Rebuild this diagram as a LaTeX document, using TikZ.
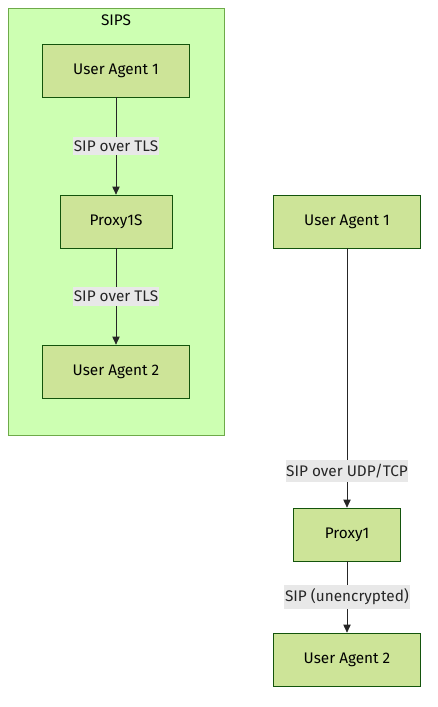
\documentclass[tikz,border=0pt]{standalone}
\usepackage{fontspec}
\setmainfont{Fira Sans}
\usepackage{tikz}
\usetikzlibrary{arrows.meta}

\definecolor{boxfill}{HTML}{CDE498}
\definecolor{boxline}{HTML}{13540C}
\definecolor{groupfill}{HTML}{CDFFB2}
\definecolor{groupline}{HTML}{6EAA49}
\definecolor{tagfill}{HTML}{E8E8E8}

\tikzset{
    agent/.style = {draw=boxline, fill=boxfill, line width=0.5pt, minimum height=39.75pt, font=\fontsize{11.5}{13}\selectfont},
    tag/.style = {fill=tagfill, inner xsep=0.5pt, inner ysep=3pt, font=\fontsize{11.5}{13}\selectfont},
    link/.style = {-{Stealth[length=6pt, width=5.5pt, inset=0pt]}, black!85, line width=0.5pt},
}

\begin{document}
\begin{tikzpicture}[x=0.75pt, y=-0.75pt]
    \useasboundingbox (0,0) rectangle (437,707);
    % secure group
    \draw[groupline, fill=groupfill, line width=0.5pt] (8,8) rectangle (224,435);
    \node[font=\fontsize{11.5}{13}\selectfont] (sips) at (116,20) {SIPS};
    \node[agent, minimum width=110pt] (ua1s) at (116,70.5) {User Agent 1};
    \node[agent, minimum width=84pt] (proxys) at (116,221.5) {Proxy1S};
    \node[agent, minimum width=110pt] (ua2s) at (116,371.5) {User Agent 2};
    \draw[link] (ua1s) -- (proxys) node[tag, pos=0.5] {SIP over TLS};
    \draw[link] (proxys) -- (ua2s) node[tag, pos=0.5] {SIP over TLS};

    % plain side
    \node[agent, minimum width=110pt] (ua1) at (347,221.5) {User Agent 1};
    \node[agent, minimum width=80pt] (proxy) at (347,534.5) {Proxy1};
    \node[agent, minimum width=110pt] (ua2) at (347,659.5) {User Agent 2};
    \draw[link] (ua1) -- (proxy) node[tag, pos=0.858] {SIP over UDP/TCP};
    \draw[link] (proxy) -- (ua2) node[tag, pos=0.5] {SIP (unencrypted)};
\end{tikzpicture}
\end{document}
